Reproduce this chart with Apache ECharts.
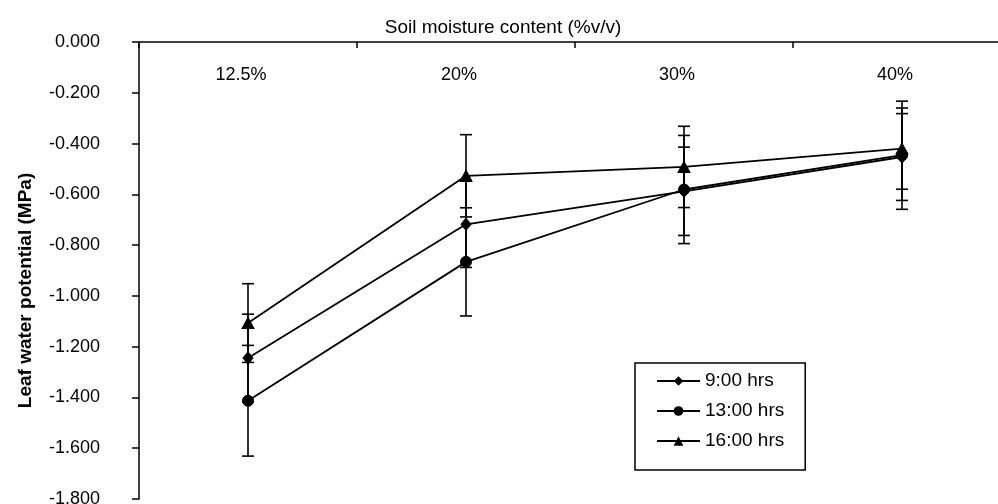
<!DOCTYPE html>
<html>
<head>
<meta charset="utf-8">
<script src="https://cdn.jsdelivr.net/npm/echarts@6/dist/echarts.min.js"></script>
<style>
  html, body { margin: 0; padding: 0; background: #fff; }
  #chart { width: 998px; height: 504px; }
</style>
</head>
<body>
<div id="chart"></div>
<script>
// Soil moisture treatments (top category axis)
const moistureLevels = ['12.5%', '20%', '30%', '40%'];

// Leaf water potential (MPa) and error half-widths per sampling time
const lwp0900 = [-1.245, -0.718, -0.588, -0.453];
const err0900 = [0.173, 0.170, 0.174, 0.171];

const lwp1300 = [-1.413, -0.866, -0.581, -0.446];
const err1300 = [0.218, 0.213, 0.213, 0.213];

const lwp1600 = [-1.107, -0.527, -0.492, -0.420];
const err1600 = [0.155, 0.162, 0.160, 0.160];

const seriesNames = ['9:00 hrs', '13:00 hrs', '16:00 hrs'];

const FONT = '"Liberation Sans", Arial, sans-serif';

function errorRows(values, errs) {
  return values.map((v, i) => [i, v - errs[i], v + errs[i]]);
}

// Vertical error bar with flat caps, drawn through the axis scales
function renderErrorBar(params, api) {
  const x = api.value(0);
  const lo = api.coord([x, api.value(1)]);
  const hi = api.coord([x, api.value(2)]);
  const half = 6;
  const style = { stroke: '#000', lineWidth: 1.6 };
  return {
    type: 'group',
    children: [
      { type: 'line', shape: { x1: lo[0], y1: lo[1], x2: hi[0], y2: hi[1] }, style },
      { type: 'line', shape: { x1: lo[0] - half, y1: lo[1], x2: lo[0] + half, y2: lo[1] }, style },
      { type: 'line', shape: { x1: hi[0] - half, y1: hi[1], x2: hi[0] + half, y2: hi[1] }, style }
    ]
  };
}

function lineSeries(name, values, symbol, size) {
  return {
    name,
    type: 'line',
    data: values,
    symbol,
    symbolSize: size,
    showAllSymbol: true,
    lineStyle: { color: '#000', width: 1.8 },
    itemStyle: { color: '#000', borderColor: '#000' },
    z: 3,
    animation: false
  };
}

function errorSeries(values, errs) {
  return {
    type: 'custom',
    renderItem: renderErrorBar,
    data: errorRows(values, errs),
    encode: { x: 0, y: [1, 2] },
    z: 2,
    silent: true,
    animation: false
  };
}

const chart = echarts.init(document.getElementById('chart'), null, { renderer: 'canvas' });

chart.setOption({
  backgroundColor: '#fff',
  animation: false,
  textStyle: { fontFamily: FONT, color: '#000' },
  // the plot area runs a little past the right edge of the page
  grid: { left: 139, top: 42, width: 872, height: 457, containLabel: false, outerBoundsMode: 'none' },
  legend: {
    orient: 'vertical',
    left: 635,
    top: 363,
    data: seriesNames,
    itemWidth: 43,
    itemHeight: 12,
    itemGap: 10,
    padding: [8, 21, 19, 21],
    borderColor: '#000',
    borderWidth: 1.5,
    backgroundColor: '#fff',
    textStyle: { fontFamily: FONT, fontSize: 19, color: '#000', lineHeight: 20 }
  },
  xAxis: {
    type: 'category',
    position: 'top',
    data: moistureLevels,
    boundaryGap: true,
    name: 'Soil moisture content (%v/v)',
    nameLocation: 'middle',
    nameGap: 4,
    nameTextStyle: { fontFamily: FONT, fontSize: 19, color: '#000', verticalAlign: 'bottom', padding: [0, 144, 0, 0] },
    axisLine: { show: true, lineStyle: { color: '#000', width: 1.5 } },
    axisTick: { show: true, inside: true, length: 6, alignWithLabel: false, lineStyle: { color: '#000', width: 1.5 } },
    axisLabel: { inside: true, margin: 24, fontFamily: FONT, fontSize: 18, color: '#000', padding: [0, 14, 0, 0] },
    splitLine: { show: false }
  },
  yAxis: {
    type: 'value',
    min: -1.8,
    max: 0,
    interval: 0.2,
    name: 'Leaf water potential (MPa)',
    nameLocation: 'middle',
    nameGap: 104,
    nameRotate: 90,
    nameTextStyle: { fontFamily: FONT, fontSize: 19, fontWeight: 'bold', color: '#000', padding: [0, 40, 0, 0] },
    axisLine: { show: true, lineStyle: { color: '#000', width: 1.5 } },
    axisTick: { show: true, inside: false, length: 7, lineStyle: { color: '#000', width: 1.5 } },
    axisLabel: {
      margin: 39,
      fontFamily: FONT,
      fontSize: 18,
      color: '#000',
      formatter: v => (Math.abs(v) < 1e-9 ? 0 : v).toFixed(3)
    },
    splitLine: { show: false }
  },
  series: [
    errorSeries(lwp0900, err0900),
    errorSeries(lwp1300, err1300),
    errorSeries(lwp1600, err1600),
    lineSeries(seriesNames[0], lwp0900, 'diamond', [10, 12]),
    lineSeries(seriesNames[1], lwp1300, 'circle', 11),
    lineSeries(seriesNames[2], lwp1600, 'triangle', [12, 11])
  ]
});
</script>
</body>
</html>
